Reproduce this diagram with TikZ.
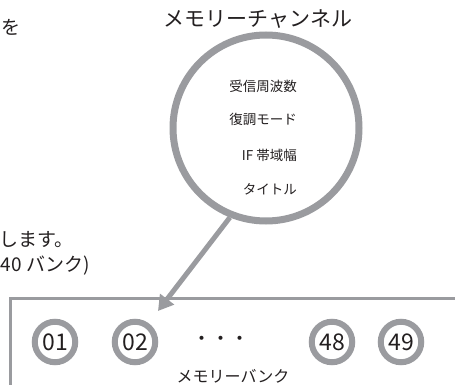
\documentclass[tikz,border=0pt]{standalone}
\usepackage{fontspec}
\setmainfont{Noto Sans CJK JP}
\usetikzlibrary{arrows.meta}
\definecolor{ring}{HTML}{9A9B9F}
\definecolor{ink}{HTML}{231F20}
\begin{document}
\begin{tikzpicture}[x=1pt,y=-1pt,
  ringnode/.style={circle,draw=ring,line width=6pt,minimum size=40.5pt,inner sep=0pt,text=ink,font=\fontsize{23}{23}\selectfont},
  lbl/.style={text=ink,inner sep=0pt},
  side/.style={lbl,font=\fontsize{19}{19}\selectfont},
  field/.style={lbl,anchor=east,font=\fontsize{13.5}{13.5}\selectfont},
]
\useasboundingbox (0,0) rectangle (455,385);

% left side texts
\node[side,anchor=west] (t1) at (1,27) {を};
\node[side,anchor=west] (t2) at (-1,240) {します。};
\node[side,anchor=west] (t3) at (0.5,266) {40 バンク)};

% memory channel
\node[lbl,font=\fontsize{21}{21}\selectfont] (title) at (258,19) {メモリーチャンネル};
\node[circle,draw=ring,line width=7pt,minimum size=186pt,inner sep=0pt] (chan) at (266,128) {};
\node[field] (f1) at (297,86) {受信周波数};
\node[field] (f2) at (297,119) {復調モード};
\node[field] (f3) at (297,155) {IF 帯域幅};
\node[field] (f4) at (297,189) {タイトル};

% memory bank box
\node[draw=ring,line width=3pt,outer sep=0pt,anchor=north west,minimum width=480pt,minimum height=120pt] (bank) at (10,298) {};
\coordinate (tip) at (158,311);
\draw[ring,line width=5pt,-{Triangle[length=15pt,width=17pt]}] (chan.248) -- (tip);

\node[ringnode] (b01) at (55,342) {01};
\node[ringnode] (b02) at (135,342) {02};
\node[lbl,font=\fontsize{19}{19}\selectfont] (dots) at (221,341) {・・・};
\node[ringnode] (b48) at (332,342) {48};
\node[ringnode] (b49) at (401,342) {49};
\node[lbl,font=\fontsize{16}{16}\selectfont] (banklabel) at (233,376) {メモリーバンク};
\end{tikzpicture}
\end{document}
